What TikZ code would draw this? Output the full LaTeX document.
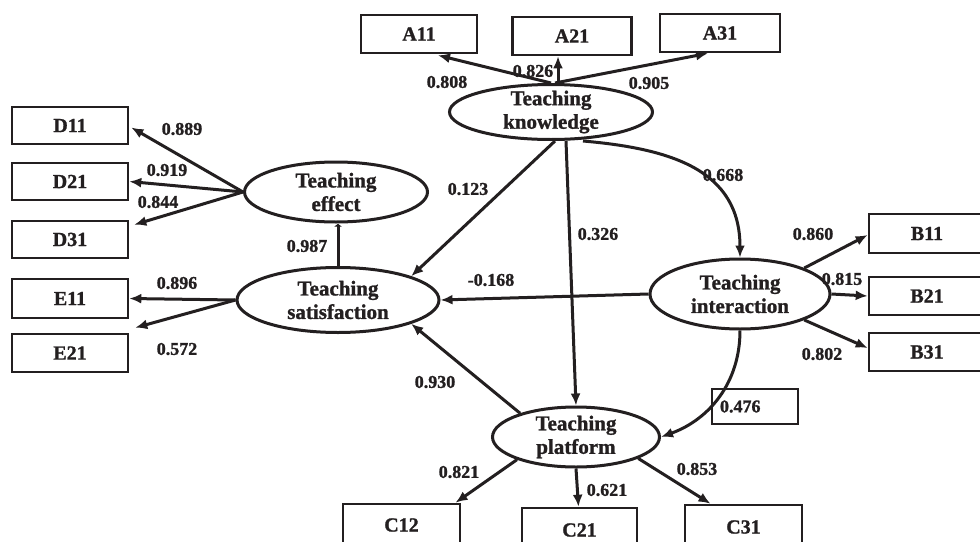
\documentclass[tikz,border=0pt]{standalone}
\usepackage{fontspec}
\setmainfont{Liberation Serif}[BoldFont={Liberation Serif Bold},BoldFeatures={FakeBold=1.2}]
\usetikzlibrary{arrows.meta,calc,shapes.geometric}
\definecolor{ink}{HTML}{231F20}
\begin{document}
\begin{tikzpicture}[x=1pt,y=-1pt,
  box/.style={draw=ink, line width=2.6pt, minimum width=116pt, minimum height=38pt, inner sep=0pt, text=ink, font=\fontsize{20}{22}\selectfont\bfseries},
  lat/.style={ellipse, draw=ink, line width=3pt, inner xsep=0pt, inner ysep=-10pt, align=center, text=ink, font=\fontsize{21}{23.5}\selectfont\bfseries},
  lbl/.style={inner sep=0pt, text=ink, font=\fontsize{18}{20}\selectfont\bfseries},
  arr/.style={draw=ink, line width=3pt, -{Latex[length=12pt,width=10pt]}}]
\useasboundingbox (0,0) rectangle (980,541);
\fill[white] (0,0) rectangle (980,541);

% latent variables
\node[lat, minimum width=203pt, minimum height=55pt] (kn) at (551,112) {Teaching\\knowledge};
\node[lat, minimum width=183pt, minimum height=60pt] (ef) at (336,192) {Teaching\\effect};
\node[lat, minimum width=202pt, minimum height=65pt] (sa) at (338,300) {Teaching\\satisfaction};
\node[lat, minimum width=180pt, minimum height=70pt] (in) at (740,294) {Teaching\\interaction};
\node[lat, minimum width=167pt, minimum height=60pt] (pf) at (576,437) {Teaching\\platform};

% indicators
\node[box] (A11) at (419,34) {A11};
\node[box, minimum width=119pt] (A21) at (572,36) {A21};
\node[box, minimum width=120pt] (A31) at (720,33) {A31};
\node[box, minimum height=37pt] (D11) at (70,125.5) {D11};
\node[box, minimum height=37pt] (D21) at (70,181.5) {D21};
\node[box, minimum height=37pt] (D31) at (70,239.5) {D31};
\node[box, minimum height=39pt] (E11) at (70,298.5) {E11};
\node[box] (E21) at (70,353) {E21};
\node[box, minimum height=39pt] (B11) at (927,233.5) {B11};
\node[box] (B21) at (927,296) {B21};
\node[box] (B31) at (927,352) {B31};
\node[box, minimum width=117pt, minimum height=42pt] (C12) at (401.5,525) {C12};
\node[box, minimum width=115pt, minimum height=44pt] (C21) at (579.5,530) {C21};
\node[box, minimum width=117pt, minimum height=44pt] (C31) at (743.5,527) {C31};

% boxed coefficient
\node[draw=ink, line width=2.6pt, minimum height=35pt, text width=70pt, inner xsep=8pt, inner ysep=0pt, align=left, text=ink, font=\fontsize{18}{20}\selectfont\bfseries] (b476) at (755,406.5) {0.476};

% measurement arrows
\draw[arr] (kn.north) -- ($(A11.south)+(19,1)$);
\draw[arr] ($(kn.north)+(7,0)$) -- ($(A21.south)+(-14,0)$);
\draw[arr] ($(kn.north)+(4,0)$) -- ($(A31.south)+(-12,0)$);
\draw[arr] (ef.west) -- ($(D11.east)+(2,2)$);
\draw[arr] (ef.west) -- (D21.east);
\draw[arr] (ef.west) -- ($(D31.north east)+(5,5)$);
\draw[arr] (sa.west) -- (E11.east);
\draw[arr] (sa.west) -- ($(E21.north east)+(6,-5)$);
\draw[arr] (in.22) -- ($(B11.west)+(0,1.5)$);
\draw[arr] (in.east) -- (B21.west);
\draw[arr] (in.-22) -- ($(B31.west)+(0,-4)$);
\draw[arr] (pf.-159) -- ($(C12.north)+(54,0)$);
\draw[arr] (pf.south) -- ($(C21.north)+(-1,0)$);
\draw[arr] (pf.-19) -- ($(C31.north)+(-33,0)$);

% structural paths
\draw[draw=ink, line width=3pt, -{Latex[length=3pt,width=8pt]}] (sa.north) -- (sa.north |- ef.south);
\draw[arr] ($(kn.south)+(4,0)$) -- (sa.18);
\draw[arr] ($(kn.south)+(15,0)$) -- (pf.north);
\draw[arr] (in.west) -- (sa.east);
\draw[arr] ($(kn.south)+(32,0)$) to[out=-5,in=90,looseness=1.15] (in.north);
\draw[arr] (in.south) to[out=-90,in=20] (pf.east);
\draw[arr] (pf.157) -- (sa.-18);

% coefficients
\node[lbl] (l808) at (447,82) {0.808};
\node[lbl] (l826) at (533,71) {0.826};
\node[lbl] (l905) at (649,83) {0.905};
\node[lbl] (l889) at (182,129) {0.889};
\node[lbl] (l919) at (167,170) {0.919};
\node[lbl] (l844) at (158,202) {0.844};
\node[lbl] (l987) at (307,246) {0.987};
\node[lbl] (l896) at (177,283) {0.896};
\node[lbl] (l572) at (177,349) {0.572};
\node[lbl] (l123) at (468,189) {0.123};
\node[lbl] (l326) at (598,234) {0.326};
\node[lbl] (l168) at (491,280) {-0.168};
\node[lbl] (l668) at (723,175) {0.668};
\node[lbl] (l860) at (813,234) {0.860};
\node[lbl] (l815) at (842,279) {0.815};
\node[lbl] (l802) at (822,354) {0.802};
\node[lbl] (l930) at (435,382) {0.930};
\node[lbl] (l821) at (459,472) {0.821};
\node[lbl] (l621) at (607,490) {0.621};
\node[lbl] (l853) at (697,469) {0.853};
\end{tikzpicture}
\end{document}
